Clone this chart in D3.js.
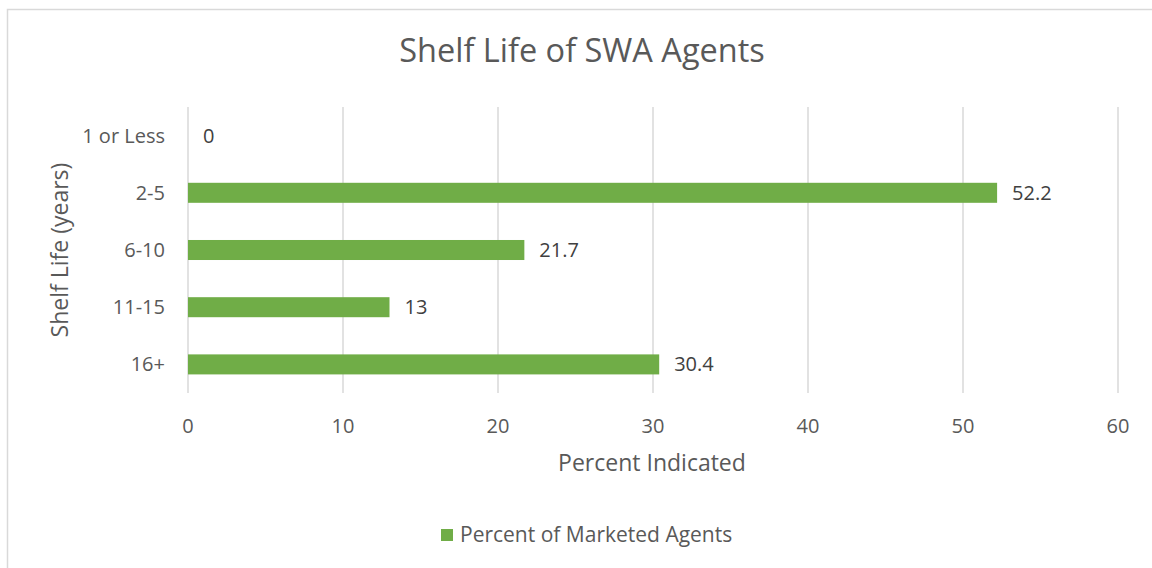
<!DOCTYPE html>
<html lang="en">
<head>
  <meta charset="UTF-8">
  <title>Shelf Life of SWA Agents</title>
  <script src="https://d3js.org/d3.v7.min.js"></script>
  <style>
    body {
      margin: 0;
      background: #fff;
      font-family: "Open Sans", Arial, sans-serif;
    }
    text {
      fill: #595959;
    }
  </style>
</head>
<body>
  <svg width="1152" height="568"></svg>
  <script>
    // chart data
    const categories = ["1 or Less", "2-5", "6-10", "11-15", "16+"];
    const values = [0, 52.2, 21.7, 13, 30.4];
    const xTicks = [0, 10, 20, 30, 40, 50, 60];
    const seriesName = "Percent of Marketed Agents";

    const width = 1152,
          height = 568;
    const margin = {top: 107, right: 35, bottom: 175, left: 188};

    const svg = d3.select("svg");

    // chart border
    svg.append("rect")
       .attr("x", 7.5)
       .attr("y", 9.5)
       .attr("width", width)
       .attr("height", height)
       .attr("fill", "none")
       .attr("stroke", "#d9d9d9")
       .attr("stroke-width", 1.5);

    const x = d3.scaleLinear()
                .domain([0, 60])
                .range([margin.left, 1118]);

    const y = d3.scaleBand()
                .domain(categories)
                .range([margin.top, height - margin.bottom])
                .paddingInner(0.65)
                .paddingOuter(0.325);

    // gridlines
    svg.append("g")
       .selectAll("line")
       .data(xTicks)
       .enter()
       .append("line")
       .attr("x1", d => x(d))
       .attr("x2", d => x(d))
       .attr("y1", margin.top)
       .attr("y2", height - margin.bottom)
       .attr("stroke", "#d9d9d9")
       .attr("stroke-width", 1.5);

    // x tick labels
    svg.append("g")
       .selectAll("text")
       .data(xTicks)
       .enter()
       .append("text")
       .attr("x", d => x(d))
       .attr("y", 433)
       .attr("text-anchor", "middle")
       .style("font-size", "20px")
       .text(d => d);

    // category labels
    svg.append("g")
       .selectAll("text")
       .data(categories)
       .enter()
       .append("text")
       .attr("x", 165)
       .attr("y", d => y(d) + y.bandwidth() / 2)
       .attr("dy", "0.35em")
       .attr("text-anchor", "end")
       .style("font-size", "20px")
       .text(d => d);

    // bars
    svg.append("g")
       .selectAll("rect")
       .data(values)
       .enter()
       .append("rect")
       .attr("x", x(0))
       .attr("y", (d, i) => y(categories[i]))
       .attr("width", d => x(d) - x(0))
       .attr("height", y.bandwidth())
       .attr("fill", "#70ad47");

    // data labels
    svg.append("g")
       .selectAll("text")
       .data(values)
       .enter()
       .append("text")
       .attr("x", d => x(d) + 15)
       .attr("y", (d, i) => y(categories[i]) + y.bandwidth() / 2)
       .attr("dy", "0.35em")
       .style("font-size", "20px")
       .style("fill", "#404040")
       .text(d => d);

    // title
    svg.append("text")
       .attr("x", 582)
       .attr("y", 62)
       .attr("text-anchor", "middle")
       .style("font-size", "32.5px")
       .text("Shelf Life of SWA Agents");

    // axis titles
    svg.append("text")
       .attr("x", 652)
       .attr("y", 471)
       .attr("text-anchor", "middle")
       .style("font-size", "23px")
       .text("Percent Indicated");

    svg.append("text")
       .attr("transform", "translate(68,250) rotate(-90)")
       .attr("text-anchor", "middle")
       .style("font-size", "23px")
       .text("Shelf Life (years)");

    // legend
    const legend = svg.append("g")
                      .attr("transform", "translate(441,529)");
    legend.append("rect")
          .attr("width", 12)
          .attr("height", 12)
          .attr("fill", "#70ad47");
    legend.append("text")
          .attr("x", 19)
          .attr("y", 6)
          .attr("dy", "0.35em")
          .style("font-size", "21px")
          .text(seriesName);
  </script>
</body>
</html>
